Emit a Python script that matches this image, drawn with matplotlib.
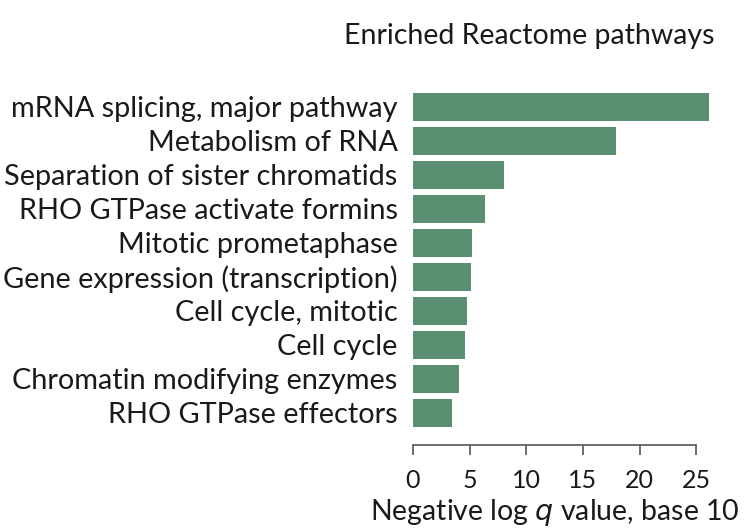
import matplotlib
matplotlib.use("Agg")
import matplotlib.pyplot as plt

pathways = [
    "mRNA splicing, major pathway",
    "Metabolism of RNA",
    "Separation of sister chromatids",
    "RHO GTPase activate formins",
    "Mitotic prometaphase",
    "Gene expression (transcription)",
    "Cell cycle, mitotic",
    "Cell cycle",
    "Chromatin modifying enzymes",
    "RHO GTPase effectors",
]
neg_log_q = [26.1, 17.9, 8.0, 6.35, 5.2, 5.1, 4.75, 4.6, 4.05, 3.4]
xticks = [0, 5, 10, 15, 20, 25]

plt.rcParams['font.family'] = ['Lato', 'DejaVu Sans']

W, H = 752, 532
fig = plt.figure(figsize=(W / 100, H / 100), dpi=100)
# axes placed in pixel terms
left, right = 413, 719
top, bottom = 92.7, 426.7
ax = fig.add_axes([left / W, 1 - bottom / H, (right - left) / W, (bottom - top) / H])

ypos = list(range(len(pathways)))
ax.barh(ypos, neg_log_q, height=0.82, color="#5a8f72")
ax.set_ylim(len(pathways) - 1 + 0.41, -0.41)
ax.set_xlim(0, 27)

ax.set_yticks(ypos)
ax.set_yticklabels(pathways, fontsize=20.8, color="#1a1a1a")
ax.tick_params(axis="y", length=0, pad=11)

ax.set_xticks(xticks)
ax.tick_params(axis="x", length=7, width=1.2, color="#555555", labelsize=18,
               labelcolor="#1a1a1a", pad=10)

for s in ["top", "right", "left"]:
    ax.spines[s].set_visible(False)
ax.spines["bottom"].set_position(("outward", 13.5))
ax.spines["bottom"].set_color("#555555")
ax.spines["bottom"].set_linewidth(1.2)
ax.spines["bottom"].set_bounds(0, 25)

ax.set_xlabel("Negative log $q$ value, base 10", fontsize=20.5, color="#1a1a1a",
              va="center")
# centre of the label at about y = 513 px
ax.xaxis.set_label_coords(12.5 / 27, (bottom - 513) / (bottom - top))
fig.text(714 / W, 1 - 36 / H, "Enriched Reactome pathways", fontsize=20.5,
         ha="right", va="center", color="#1a1a1a")

fig.savefig("out.png", dpi=100)
